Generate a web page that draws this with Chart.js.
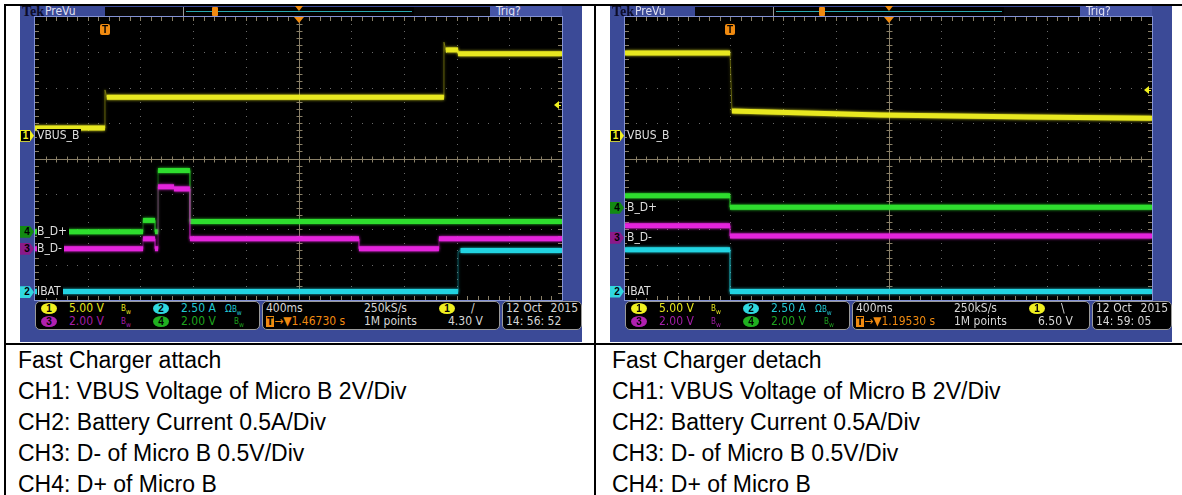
<!DOCTYPE html>
<html>
<head>
<meta charset="utf-8">
<script src="https://cdn.jsdelivr.net/npm/chart.js@4.4.0/dist/chart.umd.min.js"></script>
<style>
  html, body { margin: 0; padding: 0; background: #fff; }
  body { width: 1182px; height: 495px; position: relative; overflow: hidden; }
  .rule { position: absolute; background: #000; }
  .scope { position: absolute; top: 6px; width: 562px; height: 336px; background: #3b4a97; overflow: hidden;
    font-family: "Liberation Sans Narrow", "DejaVu Sans Condensed", "Arial Narrow", sans-serif; }
  .scope canvas { position: absolute; left: 15px; top: 11px; }
  .abs { position: absolute; white-space: nowrap; }
  .gratBorder { position: absolute; left: 14px; top: 10px; width: 527px; height: 283px; border: 1px solid #8392d6; }
  .box { position: absolute; top: 295px; height: 27px; background: #000; border: 1px solid #9a9a9a; border-radius: 5px; }
  .txt { position: absolute; font-size: 12px; line-height: 13px; color: #d6d6d6; white-space: nowrap; }
  .chip { position: absolute; width: 16px; height: 11px; border-radius: 50%; font: bold 10px/11px Arial, sans-serif; text-align: center; color: #000; }
  .bw { position: absolute; font-size: 8px; line-height: 9px; }
  .mark { position: absolute; left: 0; width: 14px; height: 12px; font: bold 10px/12px Arial, sans-serif; text-align: center;
    clip-path: polygon(0 0, 70% 0, 100% 50%, 70% 100%, 0 100%); }
  .lab { position: absolute; left: 17px; font-size: 12px; line-height: 13px; color: #dedede; background: #000; padding-right: 2px; }
  .caption { position: absolute; top: 345px; font-family: "Liberation Sans", Arial, sans-serif; font-size: 23px; line-height: 31px; color: #000; }
</style>
</head>
<body>
<div class="rule" style="left:4px;top:4px;width:1178px;height:2px"></div>
<div class="rule" style="left:4px;top:4px;width:2px;height:491px"></div>
<div class="rule" style="left:594px;top:4px;width:2px;height:491px"></div>
<div class="rule" style="left:4px;top:343px;width:1178px;height:2px"></div>

<div class="caption" style="left:18px">Fast Charger attach<br>CH1: VBUS Voltage of Micro B 2V/Div<br>CH2: Battery Current 0.5A/Div<br>CH3: D- of Micro B 0.5V/Div<br>CH4: D+ of Micro B</div>
<div class="caption" style="left:612px">Fast Charger detach<br>CH1: VBUS Voltage of Micro B 2V/Div<br>CH2: Battery Current 0.5A/Div<br>CH3: D- of Micro B 0.5V/Div<br>CH4: D+ of Micro B</div>

<script>
// time on screen in seconds (400 ms/div, 10 div), values in graticule divisions from centre
// --- Fast Charger attach ---
const attachCh1T = [0, 0.531, 0.531, 0.545, 3.104, 3.104, 3.118, 3.211, 3.211, 4.0];
const attachCh1V = [0.86, 0.86, 1.94, 1.73, 1.73, 3.29, 3.07, 3.07, 2.96, 2.96];
const attachCh2T = [0, 3.211, 3.211, 3.23, 4.0];
const attachCh2V = [-3.76, -3.76, -2.64, -2.60, -2.60];
const attachCh3T = [0, 0.820, 0.820, 0.911, 0.911, 0.934, 0.934, 1.055, 1.055, 1.176, 1.176, 2.459, 2.459, 3.066, 3.066, 4.0];
const attachCh3V = [-2.55, -2.55, -2.27, -2.27, -2.55, -2.55, -0.80, -0.80, -0.86, -0.86, -2.27, -2.27, -2.55, -2.55, -2.27, -2.27];
const attachCh4T = [0, 0.820, 0.820, 0.911, 0.911, 0.934, 0.934, 1.176, 1.176, 4.0];
const attachCh4V = [-2.07, -2.07, -1.75, -1.75, -2.07, -2.07, -0.34, -0.34, -1.78, -1.78];
// --- Fast Charger detach ---
const detachCh1T = [0, 0.797, 0.812, 1.935, 3.07, 4.0];
const detachCh1V = [2.98, 2.98, 1.34, 1.23, 1.17, 1.14];
const detachCh2T = [0, 0.797, 0.797, 4.0];
const detachCh2V = [-2.58, -2.58, -3.76, -3.76];
const detachCh3T = [0, 0.797, 0.797, 4.0];
const detachCh3V = [-1.90, -1.90, -2.19, -2.19];
const detachCh4T = [0, 0.797, 0.797, 4.0];
const detachCh4V = [-1.05, -1.05, -1.38, -1.38];

// channel reference markers (div) and trigger info
const attachMarkers = [0.64, -3.78, -2.55, -2.07];   // ch1, ch2, ch3, ch4
const detachMarkers = [0.64, -3.76, -2.24, -1.39];
const channelNames = ['VBUS_B', 'IBAT', 'B_D-', 'B_D+'];
const attachTrig = { time: 0.531, level: 1.51, recPos: 192, delay: '1.46730 s', volts: '4.30 V', slope: '/', clock: '14: 56: 52' };
const detachTrig = { time: 0.797, level: 1.94, recPos: 209, delay: '1.19530 s', volts: '6.50 V', slope: '\\', clock: '14: 59: 05' };

const COLORS = ['#e8e820', '#22d4e2', '#e424dc', '#2ede2e'];
const DIM = ['rgba(232,232,32,0.35)', 'rgba(34,212,226,0.35)', 'rgba(228,36,220,0.35)', 'rgba(46,222,46,0.35)'];

const zip = (t, v) => t.map((x, i) => ({ x, y: v[i] }));
const steep = c => Math.abs(c.p1.parsed.x - c.p0.parsed.x) < 0.02;

const graticule = {
  id: 'graticule',
  beforeDatasetsDraw(chart) {
    const { ctx, chartArea: a, scales: { x, y } } = chart;
    ctx.save();
    ctx.fillStyle = '#000';
    ctx.fillRect(a.left, a.top, a.width, a.height);
    // dotted division lines
    ctx.fillStyle = '#6a6a6a';
    for (let i = 1; i < 10; i++) {
      if (i === 5) continue;
      const px = Math.round(x.getPixelForValue(i * 0.4));
      for (let j = 0; j <= 40; j++) ctx.fillRect(px, Math.round(y.getPixelForValue(-4 + j * 0.2)), 1, 1);
    }
    for (let i = -3; i <= 3; i++) {
      if (i === 0) continue;
      const py = Math.round(y.getPixelForValue(i));
      for (let j = 0; j <= 50; j++) ctx.fillRect(Math.round(x.getPixelForValue(j * 0.08)), py, 1, 1);
    }
    // centre cross and edge ticks
    ctx.strokeStyle = '#8a8068';
    ctx.lineWidth = 1;
    const cx = Math.round(x.getPixelForValue(2)) + 0.5, cy = Math.round(y.getPixelForValue(0)) + 0.5;
    ctx.beginPath();
    ctx.moveTo(cx, a.top); ctx.lineTo(cx, a.bottom);
    ctx.moveTo(a.left, cy); ctx.lineTo(a.right, cy);
    for (let j = 1; j < 50; j++) {
      const px = Math.round(x.getPixelForValue(j * 0.08)) + 0.5;
      ctx.moveTo(px, cy - 3); ctx.lineTo(px, cy + 3);
      ctx.moveTo(px, a.top); ctx.lineTo(px, a.top + 4);
      ctx.moveTo(px, a.bottom); ctx.lineTo(px, a.bottom - 4);
    }
    for (let j = 1; j < 40; j++) {
      const py = Math.round(y.getPixelForValue(-4 + j * 0.2)) + 0.5;
      ctx.moveTo(cx - 3, py); ctx.lineTo(cx + 3, py);
      ctx.moveTo(a.left, py); ctx.lineTo(a.left + 4, py);
      ctx.moveTo(a.right, py); ctx.lineTo(a.right - 4, py);
    }
    ctx.stroke();
    ctx.restore();
  },
  beforeDatasetDraw(chart, args) {
    const ds = chart.data.datasets[args.index];
    chart.ctx.save();
    chart.ctx.shadowColor = ds.glow;
    chart.ctx.shadowBlur = 3;
  },
  afterDatasetDraw(chart) {
    chart.ctx.restore();
  }
};

function chip(n, x, y) {
  return `<div class="chip" style="left:${x}px;top:${y}px;background:${['#f0f020', '#30d8e0', '#b020b0', '#20b020'][n - 1]}">${n}</div>`;
}

function buildScope(left, series, markers, trig) {
  const root = document.createElement('div');
  root.className = 'scope';
  root.style.left = left + 'px';
  root.innerHTML = `
    <div class="abs" style="left:2px;top:-1px;font:bold 14px/13px 'Liberation Serif','DejaVu Serif',serif;color:#0c0c28">Tek</div>
    <div class="txt" style="left:25px;top:-1px;color:#e0e0f0">PreVu</div>
    <div class="abs" style="left:85px;top:1px;width:78px;height:9px;background:#060608"></div>
    <div class="abs" style="left:163px;top:1px;width:231px;height:9px;background:#000;border-left:1px solid #999;border-right:1px solid #999"></div>
    <div class="abs" style="left:166px;top:5px;width:226px;height:1px;background:#2aa8b0"></div>
    <div class="abs" style="left:${trig.recPos}px;top:1px;width:6px;height:9px;background:#f08a10;border-radius:1px"></div>
    <div class="abs" style="left:275px;top:0;width:0;height:0;border-left:4px solid transparent;border-right:4px solid transparent;border-top:5px solid #f08a10"></div>
    <div class="abs" style="left:394px;top:1px;width:76px;height:9px;background:#060608"></div>
    <div class="abs" style="left:470px;top:0;width:72px;height:11px;background:#4655a6"></div>
    <div class="txt" style="left:476px;top:-1px;color:#e4e4f4">Trig?</div>
    <div class="gratBorder"></div>
    <div class="box" style="left:15px;width:223px">
      ${chip(1, 5, 1)}<div class="txt" style="left:33px;top:0;color:#e6e61e">5.00 V</div><div class="bw" style="left:85px;top:2px;color:#e6e61e">B<sub>w</sub></div>
      ${chip(2, 117, 1)}<div class="txt" style="left:145px;top:0;color:#22c8d4">2.50 A</div><div class="txt" style="left:189px;top:0;color:#22c8d4;font-size:10px">&Omega;<span style="font-size:8px">B<sub>w</sub></span></div>
      ${chip(3, 5, 14)}<div class="txt" style="left:33px;top:13px;color:#a41ea8">2.00 V</div><div class="bw" style="left:85px;top:15px;color:#a41ea8">B<sub>w</sub></div>
      ${chip(4, 117, 14)}<div class="txt" style="left:145px;top:13px;color:#1ea41e">2.00 V</div><div class="bw" style="left:198px;top:15px;color:#1ea41e">B<sub>w</sub></div>
    </div>
    <div class="box" style="left:242px;width:236px">
      <div class="txt" style="left:3px;top:0">400ms</div>
      <div class="txt" style="left:101px;top:0">250kS/s</div>
      ${chip(1, 176, 1)}<div class="txt" style="left:208px;top:0">${trig.slope}</div>
      <div class="txt" style="left:3px;top:13px;color:#f08a10"><span style="background:#f08a10;color:#000;font-weight:bold;font-size:10px;padding:0 1px">T</span>&rarr;&#9660;${trig.delay}</div>
      <div class="txt" style="left:101px;top:13px">1M points</div>
      <div class="txt" style="left:185px;top:13px">${trig.volts}</div>
    </div>
    <div class="box" style="left:482px;width:78px">
      <div class="txt" style="left:3px;top:0">12 Oct</div>
      <div class="txt" style="right:3px;top:0">2015</div>
      <div class="txt" style="left:3px;top:13px">${trig.clock}</div>
    </div>`;
  document.body.appendChild(root);

  const canvas = document.createElement('canvas');
  canvas.width = 527; canvas.height = 283;
  canvas.style.width = '527px'; canvas.style.height = '283px';
  root.appendChild(canvas);

  const chart = new Chart(canvas, {
    type: 'line',
    data: {
      datasets: series.map((s, i) => ({
        data: zip(s[0], s[1]),
        borderColor: COLORS[i],
        glow: COLORS[i],
        borderWidth: 5,
        pointRadius: 0,
        tension: 0,
        fill: false,
        order: i === 0 ? 0 : i === 1 ? 1 : 2,
        segment: {
          borderWidth: c => steep(c) ? 1 : 5,
          borderColor: c => steep(c) ? DIM[i] : COLORS[i]
        }
      }))
    },
    options: {
      responsive: false,
      animation: false,
      events: [],
      layout: { padding: 0 },
      plugins: { legend: { display: false }, tooltip: { enabled: false } },
      scales: {
        x: { type: 'linear', min: 0, max: 4, display: false },
        y: { type: 'linear', min: -4, max: 4, display: false }
      }
    },
    plugins: [graticule]
  });

  // channel markers and labels, placed through the chart's y scale
  const y = chart.scales.y, x = chart.scales.x;
  const markBg = ['#000', '#30d8e0', '#8a1a8a', '#128a12'];
  const markFg = ['#f0f020', '#000', '#000', '#000'];
  markers.forEach((m, i) => {
    const py = 11 + y.getPixelForValue(m);
    const mk = document.createElement('div');
    mk.className = 'mark';
    mk.style.top = (py - 6) + 'px';
    mk.style.background = i === 0 ? '#f0f020' : markBg[i];
    mk.innerHTML = i === 0
      ? '<div style="position:absolute;left:1px;top:1px;width:9px;height:10px;background:#000;color:#f0f020;line-height:10px">1</div>'
      : `<span style="color:${markFg[i]}">${i + 1}</span>`;
    root.appendChild(mk);
    const lb = document.createElement('div');
    lb.className = 'lab';
    lb.style.top = (py - 7) + 'px';
    lb.textContent = channelNames[i];
    root.appendChild(lb);
  });
  // trigger position marker and level arrow
  const tx = 15 + x.getPixelForValue(trig.time);
  const tm = document.createElement('div');
  tm.className = 'abs';
  tm.style.cssText = `left:${tx - 5}px;top:18px;width:10px;height:11px;background:#f08a10;border-radius:2px;color:#000;font:bold 10px/11px Arial,sans-serif;text-align:center`;
  tm.textContent = 'T';
  root.appendChild(tm);
  const tri = document.createElement('div');
  tri.className = 'abs';
  tri.style.cssText = `left:${15 + x.getPixelForValue(2) - 5}px;top:11px;width:0;height:0;border-left:5px solid transparent;border-right:5px solid transparent;border-top:6px solid #f08a10`;
  root.appendChild(tri);
  const ly = 11 + y.getPixelForValue(trig.level);
  const la = document.createElement('div');
  la.className = 'abs';
  la.style.cssText = `left:534px;top:${ly - 4}px;width:0;height:0;border-top:4px solid transparent;border-bottom:4px solid transparent;border-right:5px solid #f0f020`;
  root.appendChild(la);
  const ll = document.createElement('div');
  ll.className = 'abs';
  ll.style.cssText = `left:538px;top:${ly}px;width:3px;height:1px;background:#f0f020`;
  root.appendChild(ll);
}

buildScope(20, [[attachCh1T, attachCh1V], [attachCh2T, attachCh2V], [attachCh3T, attachCh3V], [attachCh4T, attachCh4V]], attachMarkers, attachTrig);
buildScope(610, [[detachCh1T, detachCh1V], [detachCh2T, detachCh2V], [detachCh3T, detachCh3V], [detachCh4T, detachCh4V]], detachMarkers, detachTrig);
</script>
</body>
</html>
